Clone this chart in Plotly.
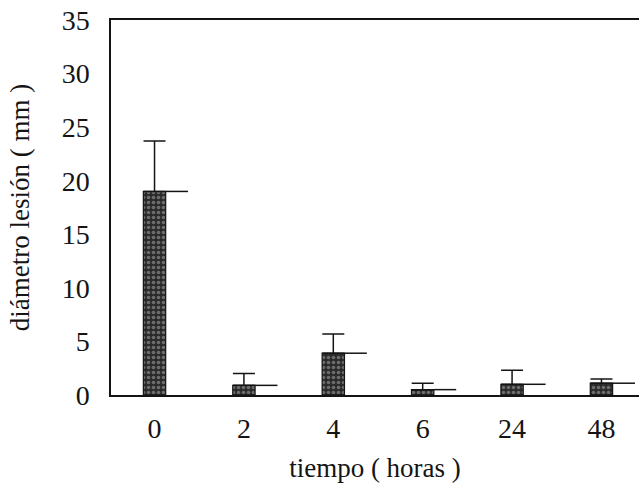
import plotly.graph_objects as go

# Lesion diameter (mm) over time after treatment
tiempo = ["0", "2", "4", "6", "24", "48"]
diametro = [19.0, 0.9, 3.9, 0.5, 1.0, 1.1]
error_sup = [4.7, 1.1, 1.8, 0.6, 1.3, 0.4]
y_ticks = [0, 5, 10, 15, 20, 25, 30, 35]

pos = list(range(len(tiempo)))
bar_w = 0.25
font_family = "Liberation Serif, Times New Roman, serif"
ink = "#141414"

fig = go.Figure()

fig.add_trace(go.Bar(
    x=pos,
    y=diametro,
    width=bar_w,
    marker=dict(
        color="#2e2e2e",
        line=dict(color=ink, width=1.2),
        pattern=dict(shape=".", bgcolor="#2a2a2a", fgcolor="#b0b0b0",
                     size=5, solidity=0.4),
    ),
    error_y=dict(type="data", array=error_sup, arrayminus=[0] * len(tiempo),
                 symmetric=False, color=ink, thickness=1.5, width=11),
    showlegend=False,
))

# short horizontal stroke at the mean, to the right of each bar
seg_x, seg_y = [], []
for p, v in zip(pos, diametro):
    seg_x += [p + bar_w / 2, p + bar_w * 1.5, None]
    seg_y += [v, v, None]
fig.add_trace(go.Scatter(x=seg_x, y=seg_y, mode="lines",
                         line=dict(color=ink, width=1.5),
                         showlegend=False, hoverinfo="skip"))

fig.update_layout(
    width=639, height=483,
    margin=dict(l=111, r=0, t=20, b=88),
    paper_bgcolor="white", plot_bgcolor="white",
    font=dict(family=font_family, color=ink),
    xaxis=dict(
        range=[-0.487, 5.42],
        tickvals=pos, ticktext=tiempo,
        tickfont=dict(family=font_family, size=28),
        showgrid=False, zeroline=False,
        showline=True, linecolor=ink, linewidth=1.5, mirror=True,
        ticks="", ticklabelstandoff=8,
        title=dict(text="tiempo ( horas )", font=dict(family=font_family, size=27),
                   standoff=20),
    ),
    yaxis=dict(
        range=[0, 35],
        tickvals=y_ticks,
        tickfont=dict(family=font_family, size=28),
        showgrid=False, zeroline=False,
        showline=True, linecolor=ink, linewidth=1.5,
        ticks="", ticklabelstandoff=14,
        title=dict(text="diámetro lesión ( mm )", font=dict(family=font_family, size=27),
                   standoff=24),
    ),
)

fig.write_html("out.html")
